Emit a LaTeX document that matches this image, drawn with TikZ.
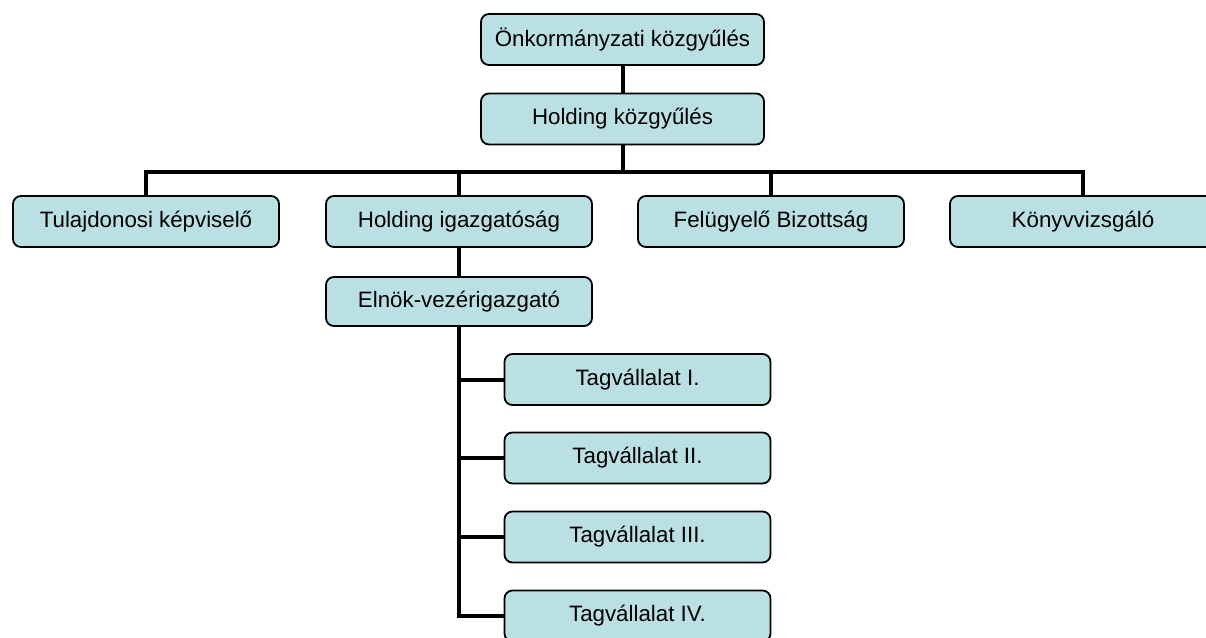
\documentclass[tikz,border=0pt]{standalone}
\usepackage{fontspec}
\setmainfont{Liberation Sans}
\definecolor{boxfill}{RGB}{187,224,227}
\begin{document}
\begin{tikzpicture}[x=1pt,y=-1pt,
  box/.style={draw=black, line width=1.8pt, fill=boxfill, rounded corners=8pt,
    minimum width=266pt, minimum height=51pt, inner sep=0pt,
    font=\fontsize{22.3}{26}\selectfont},
  topbox/.style={box, minimum width=283pt},
  conn/.style={line width=4pt, line join=miter}]
\useasboundingbox (0,0) rectangle (1206,637);

\node[topbox] (ok) at (622.5,39.5) {Önkormányzati közgyűlés};
\node[topbox] (hk) at (622.5,119) {Holding közgyűlés};

\node[box] (tk) at (146,221.5) {Tulajdonosi képviselő};
\node[box] (hi) at (459,221.5) {Holding igazgatóság};
\node[box] (fb) at (771,221.5) {Felügyelő Bizottság};
\node[box] (kv) at (1083,221.5) {Könyvvizsgáló};

\node[box, minimum height=49pt] (ev) at (459,301.5) {Elnök-vezérigazgató};

\node[box] (t1) at (637.5,379.5) {Tagvállalat I.};
\node[box] (t2) at (637.5,458) {Tagvállalat II.};
\node[box] (t3) at (637.5,537) {Tagvállalat III.};
\node[box] (t4) at (637.5,616) {Tagvállalat IV.};

\coordinate (bus) at (146,172);

\draw[conn] (ok.south) -- (hk.north);
\draw[conn] (hk.south) -- (hk.south |- bus);
\draw[conn] (tk.north) -- (tk.north |- bus) -- (kv.north |- bus) -- (kv.north);
\draw[conn] (hi.north |- bus) -- (hi.north);
\draw[conn] (fb.north |- bus) -- (fb.north);
\draw[conn] (hi.south) -- (ev.north);
\draw[conn] (ev.south) |- (t4.west);
\draw[conn] (ev.south |- t1.west) -- (t1.west);
\draw[conn] (ev.south |- t2.west) -- (t2.west);
\draw[conn] (ev.south |- t3.west) -- (t3.west);
\end{tikzpicture}
\end{document}
